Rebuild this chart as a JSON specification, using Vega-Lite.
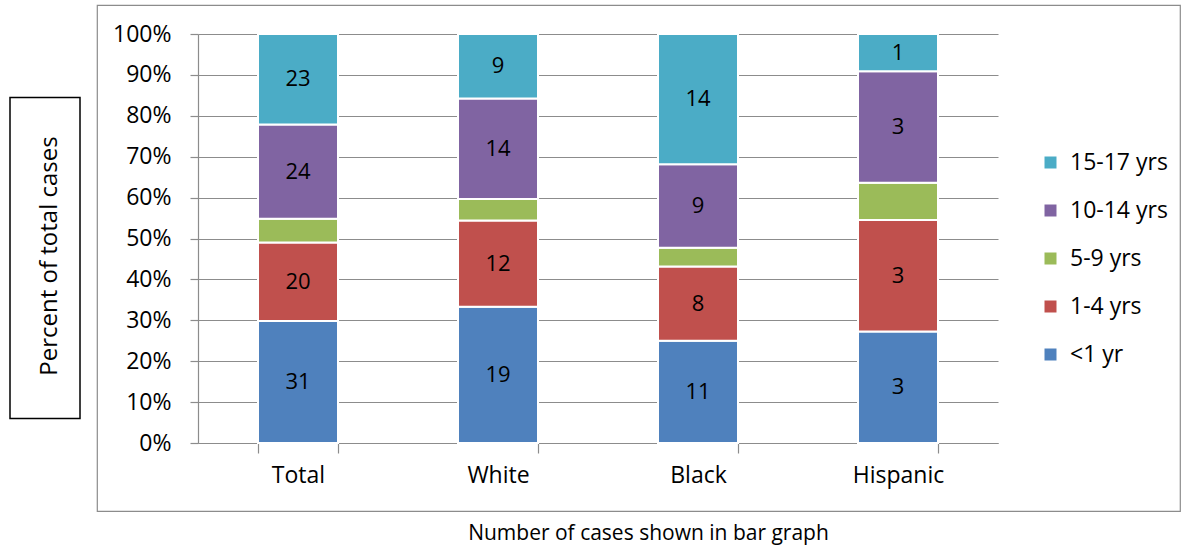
{
  "$schema": "https://vega.github.io/schema/vega-lite/v6.json",
  "padding": {"left": 9, "top": 4, "right": 0, "bottom": 0},
  "autosize": {"type": "pad"},
  "bounds": "flush",
  "center": true,
  "spacing": 17,
  "config": {
    "font": "Open Sans",
    "text": {"font": "Open Sans"}
  },
  "hconcat": [
    {
      "width": 70,
      "height": 321,
      "view": {"stroke": "#000000", "strokeWidth": 1.5},
      "data": {"values": [{"label": "Percent of total cases"}]},
      "mark": {"type": "text", "angle": 270, "fontSize": 24, "color": "#000000", "align": "center", "baseline": "middle", "dx": 2, "dy": 5},
      "encoding": {"text": {"field": "label"}}
    },
    {
      "width": 1083,
      "height": 506,
      "view": {"stroke": "#8c8c8c", "strokeWidth": 1.2},
      "title": {
        "text": "Number of cases shown in bar graph",
        "orient": "bottom",
        "anchor": "middle",
        "offset": 12,
        "dx": 10,
        "fontSize": 21,
        "fontWeight": "normal",
        "color": "#000000",
        "font": "Open Sans"
      },
      "data": {
        "values": [
          {"race": "Total", "group": "<1 yr", "k": 1, "cases": 31},
          {"race": "Total", "group": "1-4 yrs", "k": 2, "cases": 20},
          {"race": "Total", "group": "5-9 yrs", "k": 3, "cases": 6},
          {"race": "Total", "group": "10-14 yrs", "k": 4, "cases": 24},
          {"race": "Total", "group": "15-17 yrs", "k": 5, "cases": 23},
          {"race": "White", "group": "<1 yr", "k": 1, "cases": 19},
          {"race": "White", "group": "1-4 yrs", "k": 2, "cases": 12},
          {"race": "White", "group": "5-9 yrs", "k": 3, "cases": 3},
          {"race": "White", "group": "10-14 yrs", "k": 4, "cases": 14},
          {"race": "White", "group": "15-17 yrs", "k": 5, "cases": 9},
          {"race": "Black", "group": "<1 yr", "k": 1, "cases": 11},
          {"race": "Black", "group": "1-4 yrs", "k": 2, "cases": 8},
          {"race": "Black", "group": "5-9 yrs", "k": 3, "cases": 2},
          {"race": "Black", "group": "10-14 yrs", "k": 4, "cases": 9},
          {"race": "Black", "group": "15-17 yrs", "k": 5, "cases": 14},
          {"race": "Hispanic", "group": "<1 yr", "k": 1, "cases": 3},
          {"race": "Hispanic", "group": "1-4 yrs", "k": 2, "cases": 3},
          {"race": "Hispanic", "group": "5-9 yrs", "k": 3, "cases": 1},
          {"race": "Hispanic", "group": "10-14 yrs", "k": 4, "cases": 3},
          {"race": "Hispanic", "group": "15-17 yrs", "k": 5, "cases": 1}
        ]
      },
      "transform": [
        {"stack": "cases", "groupby": ["race"], "sort": [{"field": "k", "order": "ascending"}], "offset": "normalize", "as": ["y0", "y1"]},
        {"calculate": "(datum.y0 + datum.y1) / 2", "as": "mid"}
      ],
      "encoding": {
        "x": {
          "field": "race",
          "type": "nominal",
          "sort": ["Total", "White", "Black", "Hispanic"],
          "title": null,
          "scale": {"range": [101, 901], "paddingInner": 0.6, "paddingOuter": 0.3},
          "axis": {
            "orient": "bottom",
            "offset": -68,
            "labelAngle": 0,
            "labelFontSize": 23,
            "labelColor": "#000000",
            "labelPadding": 11,
            "tickBand": "extent",
            "tickSize": 10,
            "tickColor": "#8c8c8c",
            "tickWidth": 1.2,
            "domainColor": "#8c8c8c",
            "domainWidth": 1.2,
            "grid": false
          }
        }
      },
      "layer": [
        {
          "mark": {"type": "bar", "stroke": "#ffffff", "strokeWidth": 2},
          "encoding": {
            "y": {
              "field": "y0",
              "type": "quantitative",
              "title": null,
              "scale": {"domain": [0, 1], "range": [438, 29], "nice": false},
              "axis": {
                "orient": "left",
                "offset": -101,
                "values": [0, 0.1, 0.2, 0.3, 0.4, 0.5, 0.6, 0.7, 0.8, 0.9, 1],
                "format": ".0%",
                "labelFontSize": 23,
                "labelColor": "#000000",
                "labelPadding": 19,
                "tickSize": 8,
                "tickColor": "#8c8c8c",
                "tickWidth": 1.2,
                "domainColor": "#8c8c8c",
                "domainWidth": 1.2,
                "grid": true,
                "gridColor": "#8c8c8c",
                "gridWidth": 1.2
              }
            },
            "y2": {"field": "y1"},
            "color": {
              "field": "group",
              "type": "nominal",
              "scale": {
                "domain": ["15-17 yrs", "10-14 yrs", "5-9 yrs", "1-4 yrs", "<1 yr"],
                "range": ["#4bacc6", "#8064a2", "#9bbb59", "#c0504d", "#4f81bd"]
              },
              "legend": {
                "title": null,
                "orient": "none",
                "legendX": 1029,
                "legendY": 146,
                "symbolType": "square",
                "symbolSize": 144,
                "symbolStrokeWidth": 0,
                "labelFontSize": 23,
                "labelColor": "#000000",
                "labelOffset": 8,
                "rowPadding": 24
              }
            }
          }
        },
        {
          "transform": [{"filter": "datum.group !== '5-9 yrs'"}],
          "mark": {"type": "text", "fontSize": 22, "color": "#000000", "baseline": "middle", "align": "center"},
          "encoding": {
            "y": {"field": "mid", "type": "quantitative"},
            "text": {"field": "cases", "type": "quantitative"}
          }
        }
      ]
    }
  ]
}
